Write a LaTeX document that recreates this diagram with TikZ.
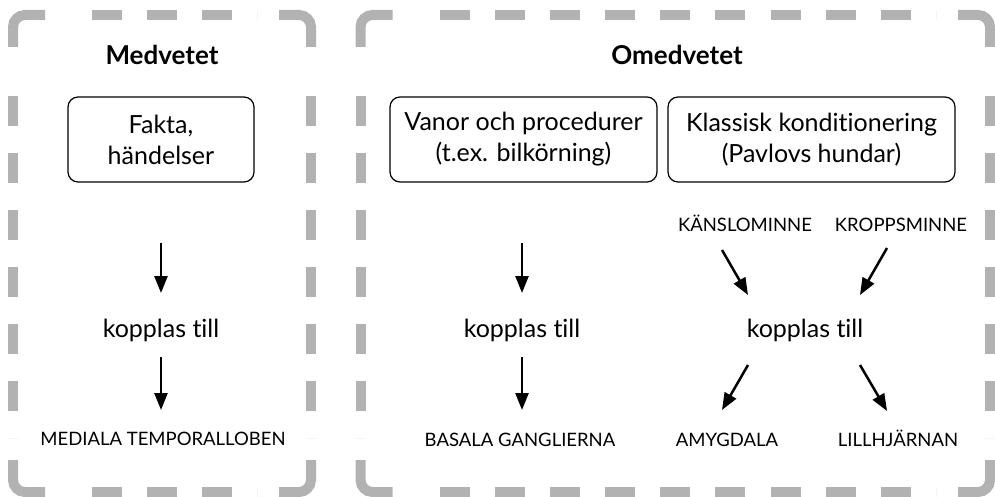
\documentclass[tikz,border=0pt]{standalone}
\usepackage{fontspec}
\setmainfont{Lato}[Ligatures=NoCommon]
\usetikzlibrary{arrows.meta,decorations}

\begin{document}
\begin{tikzpicture}[x=1pt,y=-1pt,every node/.style={inner sep=0pt}]
  % grey frames, black boxes and plain labels
  \tikzstyle{rim}=[draw=gray!60,line width=10pt,rounded corners=12pt]
  \tikzstyle{rimdash}=[rim,dash pattern=on 30pt off 22pt,dash expand off]
  \tikzstyle{heading}=[anchor=base,font=\fontsize{26}{30}\selectfont\bfseries]
  \tikzstyle{memory}=[rectangle,rounded corners=10pt,draw=black,line width=1.2pt,align=center,minimum height=85pt,font=\fontsize{25}{31}\selectfont]
  \tikzstyle{link}=[anchor=base,font=\fontsize{25}{30}\selectfont]
  \tikzstyle{region}=[anchor=base,font=\fontsize{18.5}{22}\selectfont]
  \tikzstyle{pointer}=[line width=2.5pt,-{Triangle[length=17pt,width=13pt]}]

  \useasboundingbox (0,0) rectangle (995,497);

  % frames: solid corners, dashed sides
  \foreach \xa/\xb in {13/311,360.5/990}{
    \draw[rim] (\xa,47) |- (\xa+32,15);
    \draw[rim] (\xb-32,15) -| (\xb,47);
    \draw[rim] (\xb,460) |- (\xb-32,492);
    \draw[rim] (\xa+32,492) -| (\xa,460);
    \draw[rimdash] (\xa+54,15) -- (\xb-54,15);
    \draw[rimdash] (\xa+54,492) -- (\xb-54,492);
    \draw[rimdash] (\xa,69) -- (\xa,438);
    \draw[rimdash] (\xb,69) -- (\xb,438);
  }

  \node[heading] (med)   at (162,65)  {Medvetet};
  \node[heading] (omed)  at (677,65)  {Omedvetet};

  \node[memory,minimum width=186pt] (fakta) at (161,139.5) {Fakta,\\händelser};
  \node[memory,minimum width=267pt] (vanor) at (523.5,139.5) {Vanor och procedurer\\(t.ex. bilkörning)};
  \node[memory,minimum width=287pt] (klass) at (811.5,139.5) {Klassisk konditionering\\(Pavlovs hundar)};

  \node[region] (kansl) at (745,231) {KÄNSLOMINNE};
  \node[region] (kropp) at (901,231) {KROPPSMINNE};

  \node[link] (kopp1) at (161,337) {kopplas till};
  \node[link] (kopp2) at (522,337) {kopplas till};
  \node[link] (kopp3) at (805,337) {kopplas till};

  \node[region] (mtl)   at (163,445) {MEDIALA TEMPORALLOBEN};
  \node[region] (basal) at (520,446) {BASALA GANGLIERNA};
  \node[region] (amyg)  at (727,446) {AMYGDALA};
  \node[region] (lill)  at (898,446) {LILLHJÄRNAN};

  \draw[pointer] ([shift={(0,60)}]fakta.south) -- ([shift={(0,-44)}]kopp1.base);
  \draw[pointer] ([shift={(0,20)}]kopp1.base) -- ([shift={(-2,-35)}]mtl.base);
  \draw[pointer] ([shift={(-1.5,60)}]vanor.south) -- ([shift={(0,-44)}]kopp2.base);
  \draw[pointer] ([shift={(0,20)}]kopp2.base) -- ([shift={(2,-36)}]basal.base);
  \draw[pointer] ([shift={(-23,19)}]kansl.base) -- ([shift={(-57,-42)}]kopp3.base);
  \draw[pointer] ([shift={(-14,17)}]kropp.base) -- ([shift={(55,-42)}]kopp3.base);
  \draw[pointer] ([shift={(-57,28)}]kopp3.base) -- ([shift={(-5,-36)}]amyg.base);
  \draw[pointer] ([shift={(55,28)}]kopp3.base) -- ([shift={(-11,-35)}]lill.base);
\end{tikzpicture}
\end{document}
